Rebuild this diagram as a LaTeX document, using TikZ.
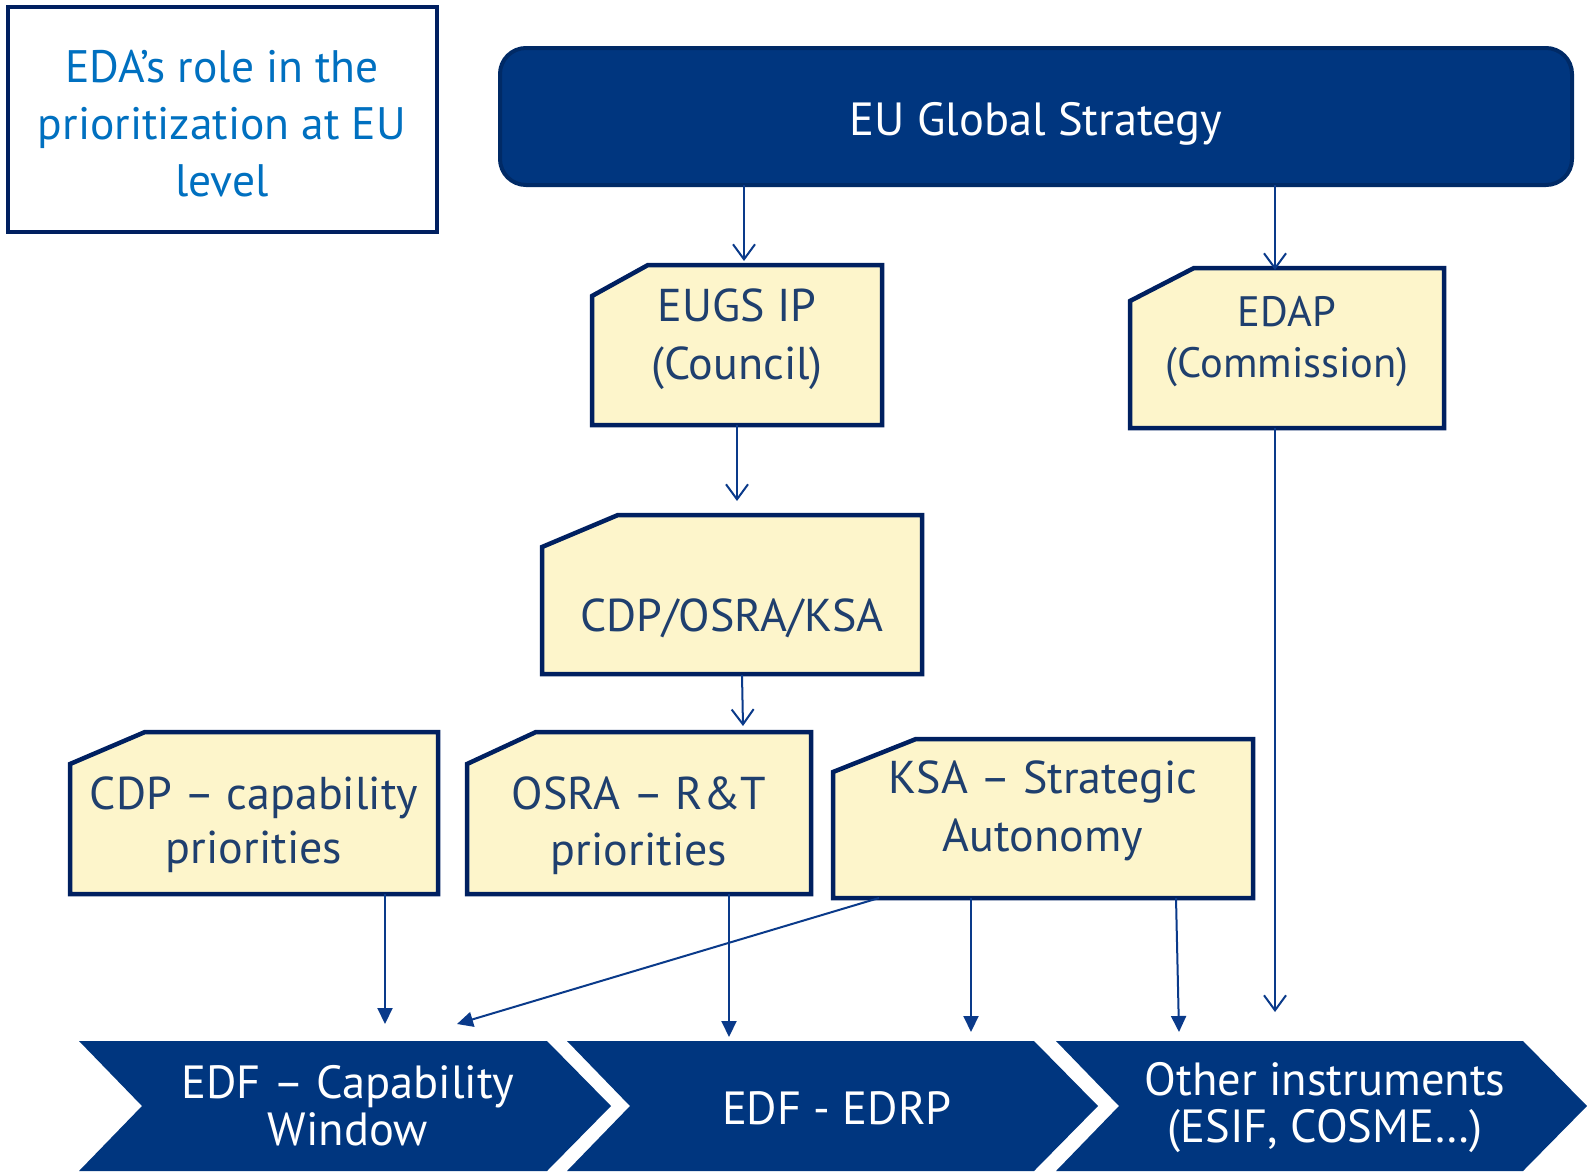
\documentclass[tikz,border=0pt]{standalone}
\usepackage{fontspec}
\setmainfont{PT Sans}
\usetikzlibrary{arrows.meta,calc}
\definecolor{navy}{HTML}{002060}
\definecolor{chev}{HTML}{00367F}
\definecolor{stratline}{HTML}{002A66}
\definecolor{cream}{HTML}{FDF5CB}
\definecolor{boxtxt}{HTML}{1F3F6E}
\definecolor{arr}{HTML}{0A3A8A}
\definecolor{ttl}{HTML}{0070C0}
\newcommand\snipshape[3]{\draw[snipbox] ($(#1.north west)+(#2,0)$) -- (#1.north east) -- (#1.south east) -- (#1.south west) -- ($(#1.north west)+(0,#3)$) -- cycle;}
\newcommand\chevshape[1]{\fill[chev] (#1.north west) -- (#1.north east) -- ($(#1.east)+(64,0)$) -- (#1.south east) -- (#1.south west) -- ($(#1.west)+(63,0)$) -- cycle;}
\begin{document}
\begin{tikzpicture}[x=1pt,y=-1pt,
  area/.style={draw=none,inner sep=0pt,outer sep=0pt,rectangle,minimum width=#1},
  snipbox/.style={draw=navy,fill=cream,line width=4.5pt,line join=miter},
  ytext/.style={text=boxtxt,align=center,inner sep=0pt,font=\fontsize{46}{#1}\selectfont},
  wtext/.style={text=white,align=center,inner sep=0pt,font=\fontsize{46.5}{#1}\selectfont},
  openarr/.style={draw=arr,line width=2pt,-{Straight Barb[length=15pt,width=22pt,line width=2pt]}},
  fillarr/.style={draw=arr,line width=2pt,-{Triangle[length=16pt,width=15pt]}}
]
\useasboundingbox (0,0) rectangle (1587,1175);
% title
\node[area=429pt,minimum height=225pt,draw=navy,fill=white,line width=4.5pt] (title) at (222.5,119.5) {};
\node[text=ttl,align=center,inner sep=0pt,font=\fontsize{45.5}{57}\selectfont] (titleT) at (222,124) {EDA’s role in the\\prioritization at EU\\level};
% strategy
\node[area=1072pt,minimum height=137pt,draw=stratline,fill=chev,line width=4pt,rounded corners=26pt] (strat) at (1036,116.5) {};
\node[wtext=50] (stratT) at (1036,124) {EU Global Strategy};
% yellow boxes
\node[area=290pt,minimum height=160pt] (eugs) at (737,345) {};
\node[area=314pt,minimum height=160pt] (edap) at (1287,348) {};
\node[area=380pt,minimum height=159pt] (cok) at (732,594.5) {};
\node[area=368pt,minimum height=162pt] (cdp) at (254,813) {};
\node[area=344pt,minimum height=162pt] (osra) at (639,813) {};
\node[area=420pt,minimum height=159pt] (ksa) at (1043,818.5) {};
\snipshape{eugs}{56}{31}
\snipshape{edap}{64}{33}
\snipshape{cok}{76}{32}
\snipshape{cdp}{75}{32}
\snipshape{osra}{69}{32}
\snipshape{ksa}{83}{33}
\node[ytext=58] (eugsT) at (737,339) {EUGS IP\\(Council)};
\node[text=boxtxt,align=center,inner sep=0pt,font=\fontsize{42.5}{51}\selectfont] (edapT) at (1287,342) {EDAP\\(Commission)};
\node[ytext=50] (cokT) at (732,618) {CDP/OSRA/KSA};
\node[ytext=54] (cdpT) at (254,825) {CDP – capability\\priorities};
\node[ytext=56] (osraT) at (639,826) {OSRA – R\&T\\priorities};
\node[ytext=58] (ksaT) at (1043,811) {KSA – Strategic\\Autonomy};
% chevrons
\node[area=468pt,minimum height=130pt] (ch1) at (313,1106) {};
\node[area=467pt,minimum height=130pt] (ch2) at (800.5,1106) {};
\node[area=467pt,minimum height=130pt] (ch3) at (1289.5,1106) {};
\chevshape{ch1}
\chevshape{ch2}
\chevshape{ch3}
\node[wtext=47] (ch1T) at (348,1106) {EDF – Capability\\Window};
\node[wtext=47] (ch2T) at (837,1108) {EDF - EDRP};
\node[wtext=47] (ch3T) at (1325,1108) {Other instruments\\(ESIF, COSME…)};
% connectors
\coordinate (e1) at (744,261);
\coordinate (e2) at (1275,270);
\coordinate (e3) at (737,501);
\coordinate (e4) at (743,726);
\coordinate (e5) at (385,1024);
\coordinate (e6) at (457,1024);
\coordinate (s6) at (879,903);
\coordinate (e7) at (729,1037);
\coordinate (e8) at (971,1032);
\coordinate (e9) at (1179,1032);
\coordinate (s9) at (1176,903);
\coordinate (e10) at (1275,1012);
\draw[openarr] (strat.south -| e1) -- (e1);
\draw[openarr] (strat.south -| e2) -- (e2);
\draw[openarr] (eugs.south -| e3) -- (e3);
\draw[openarr] ($(cok.south)+(10,1)$) -- (e4);
\draw[fillarr] (cdp.south -| e5) -- (e5);
\draw[fillarr] (ksa.south -| s6) -- (e6);
\draw[fillarr] (osra.south -| e7) -- (e7);
\draw[fillarr] (ksa.south -| e8) -- (e8);
\draw[fillarr] (ksa.south -| s9) -- (e9);
\draw[openarr] (edap.south -| e10) -- (e10);
\end{tikzpicture}
\end{document}
